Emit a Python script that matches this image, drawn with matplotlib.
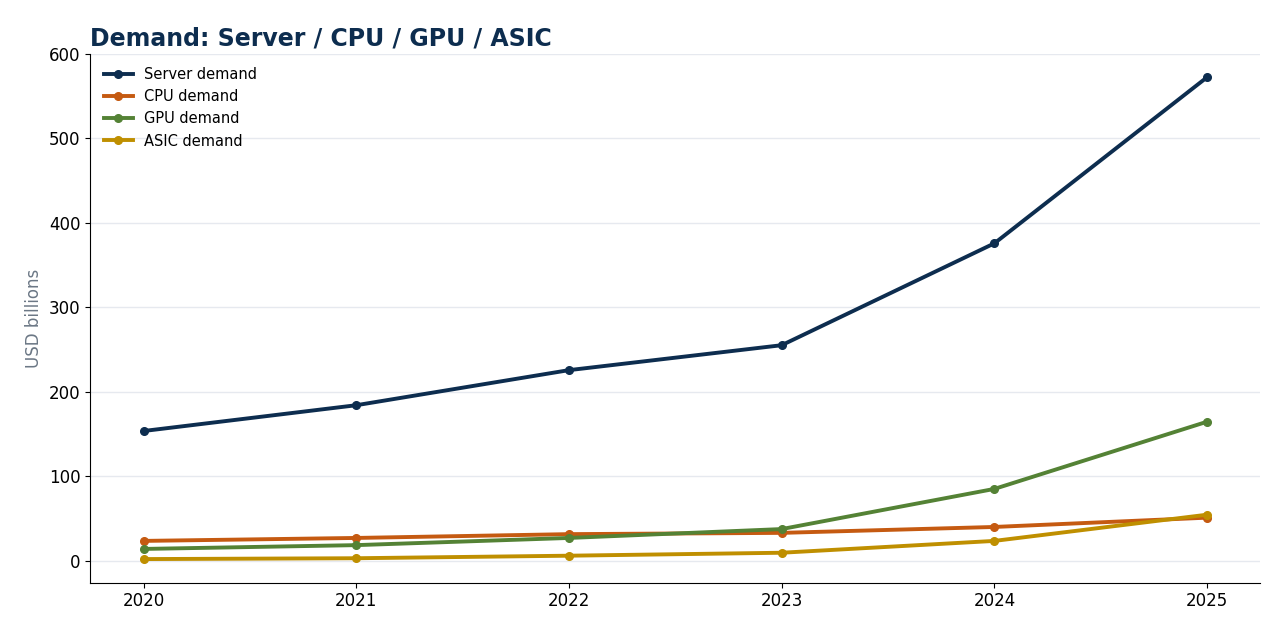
import matplotlib
matplotlib.use("Agg")
import matplotlib.pyplot as plt

anos = [2020, 2021, 2022, 2023, 2024, 2025]
server = [153.5, 184, 225.5, 255, 375.5, 572]
cpu = [23.5, 27, 31.5, 33, 40, 51]
gpu = [14, 18.5, 27, 37.5, 85, 164.5]
asic = [2, 3, 6, 9.5, 23.5, 54.5]

series = [
    ("Server demand", server, "#0d2d4f"),
    ("CPU demand", cpu, "#c55a11"),
    ("GPU demand", gpu, "#548235"),
    ("ASIC demand", asic, "#bf8f00"),
]

fig, ax = plt.subplots(figsize=(12.73, 6.30), dpi=100)
for nome, vals, cor in series:
    ax.plot(anos, vals, color=cor, lw=2.8, marker="o", ms=5.5, label=nome)

ax.set_xticks(anos)
ax.set_ylim(-26, 600)
ax.set_yticks(range(0, 601, 100))
ax.tick_params(labelsize=12)
ax.set_ylabel("USD billions", color="#6b7785", fontsize=12)
ax.set_title("Demand: Server / CPU / GPU / ASIC", loc="left",
             fontsize=17, fontweight="bold", color="#0d2d4f")
ax.grid(True, axis="y", color="#e6e9ef", lw=1)
ax.set_axisbelow(True)
for s in ["top", "right"]:
    ax.spines[s].set_visible(False)
ax.legend(loc="upper left", frameon=False, fontsize=10.5)

plt.subplots_adjust(left=0.071, right=0.99, top=0.915, bottom=0.075)
plt.savefig("out.png", dpi=100)
plt.close()
